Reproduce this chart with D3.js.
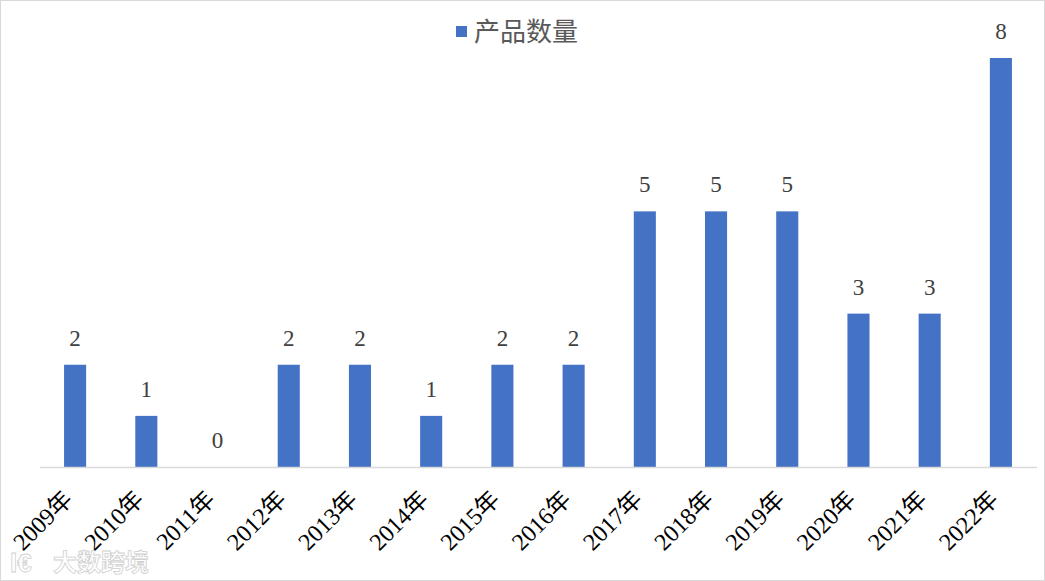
<!DOCTYPE html>
<html><head><meta charset="utf-8">
<script src="https://cdn.jsdelivr.net/npm/d3@7"></script>
<style>html,body{margin:0;padding:0;background:#fff;}svg{display:block;}</style>
</head><body>
<script>
const categories = ["2009年","2010年","2011年","2012年","2013年","2014年","2015年","2016年","2017年","2018年","2019年","2020年","2021年","2022年"];
const values = [2,1,0,2,2,1,2,2,5,5,5,3,3,8];
const seriesName = "产品数量";

const W = 1045, H = 581;
const svg = d3.select("body").append("svg").attr("width", W).attr("height", H);
svg.append("rect").attr("x",0.5).attr("y",0.5).attr("width",W-1).attr("height",H-1)
  .attr("fill","#fff").attr("stroke","#d9d9d9");

const x = d3.scaleBand().domain(categories).range([39.5, 1036.5]).paddingInner(0.69).paddingOuter(0.345);
const y = d3.scaleLinear().domain([0, 8]).range([467, 58]);

svg.selectAll("rect.bar").data(values).enter().append("rect").attr("class","bar")
  .attr("x",(d,i)=>x(categories[i])).attr("width",x.bandwidth())
  .attr("y",d=>y(d)).attr("height",d=>y(0)-y(d)).attr("fill","#4472C4");

const axis = svg.append("g").attr("transform",`translate(0,${y(0)})`)
  .call(d3.axisBottom(x).tickSize(0).tickFormat(""));
axis.select(".domain").attr("stroke","#d9d9d9").attr("stroke-width",1.5);

svg.selectAll("text.lbl").data(values).enter().append("text").attr("class","lbl")
  .attr("x",(d,i)=>x(categories[i])+x.bandwidth()/2).attr("y",d=>y(d)-19)
  .attr("text-anchor","middle").attr("font-family","'Liberation Serif','Times New Roman',serif")
  .attr("font-size",23).attr("fill","#404040").text(d=>d);

svg.selectAll("text.cat").data(categories).enter().append("text").attr("class","cat")
  .attr("transform",d=>`translate(${x(d)+x.bandwidth()/2-13},${y(0)+22}) rotate(-45)`)
  .attr("text-anchor","end").attr("dominant-baseline","hanging")
  .attr("font-family","'Liberation Serif','Noto Sans CJK SC',serif").attr("font-size",24)
  .attr("fill","#000").text(d=>d);

const lg = svg.append("g");
lg.append("rect").attr("x",456).attr("y",26).attr("width",11).attr("height",11).attr("fill","#4472C4");
lg.append("text").attr("x",474).attr("y",41).attr("font-family","'Noto Sans CJK SC',sans-serif")
  .attr("font-size",26).attr("fill","#595959").text(seriesName);

const wm = svg.append("g").attr("opacity",0.85);
wm.append("text").attr("x",53).attr("y",571).attr("font-family","'Noto Sans CJK SC',sans-serif")
  .attr("font-size",24).attr("font-weight","bold").attr("fill","#fff").attr("stroke","#c8c8c8").attr("stroke-width",0.8).text("大数跨境");
wm.append("text").attr("x",10).attr("y",572).attr("font-family","sans-serif")
  .attr("font-size",26).attr("font-weight","bold").attr("fill","#fff").attr("stroke","#c8c8c8").attr("stroke-width",0.8).text("l€");
</script>
</body></html>
